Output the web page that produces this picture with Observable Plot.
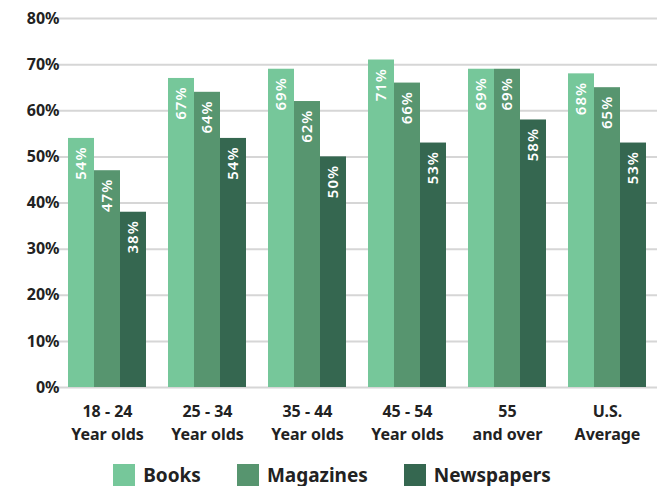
<!DOCTYPE html>
<html>
<head>
<meta charset="utf-8">
<script src="https://cdn.jsdelivr.net/npm/d3@7"></script>
<script src="https://cdn.jsdelivr.net/npm/@observablehq/plot@0.6"></script>
<style>
  body { margin: 0; background: #fff; font-family: "Noto Sans", sans-serif; }
  #chart svg { display: block; }
  g[aria-label="text"] text { letter-spacing: 1px; }
  .legend { display: flex; justify-content: center; align-items: center; gap: 36px; margin-top: 8px; margin-left: 4px; height: 22px; }
  .item { display: flex; align-items: center; gap: 8px; font-weight: bold; font-size: 19px; line-height: 22px; color: #222; }
  .sw { width: 22px; height: 22px; }
</style>
</head>
<body>
<div id="chart"></div>
<div class="legend" id="legend"></div>
<script>
const groups = ["18 - 24\nYear olds", "25 - 34\nYear olds", "35 - 44\nYear olds", "45 - 54\nYear olds", "55\nand over", "U.S.\nAverage"];
const seriesNames = ["Books", "Magazines", "Newspapers"];
const colors = ["#76c79a", "#57956f", "#356750"];
const books = [54, 67, 69, 71, 69, 68];
const magazines = [47, 64, 62, 66, 69, 65];
const newspapers = [38, 54, 50, 53, 58, 53];
const yTicks = [0, 10, 20, 30, 40, 50, 60, 70, 80];

const seriesValues = [books, magazines, newspapers];
const data = [];
groups.forEach((g, i) => {
  seriesNames.forEach((s, j) => data.push({group: g, series: s, value: seriesValues[j][i]}));
});

const chart = Plot.plot({
  width: 660,
  height: 456,
  marginLeft: 57,
  marginRight: 3,
  marginTop: 18,
  marginBottom: 69,
  style: {fontFamily: "Noto Sans, sans-serif", color: "#222"},
  fx: {domain: groups, paddingInner: 0.22, paddingOuter: 0.11, label: null, axis: null},
  x: {domain: seriesNames, padding: 0, axis: null},
  y: {domain: [0, 80], ticks: yTicks, label: null},
  color: {domain: seriesNames, range: colors},
  marks: [
    Plot.ruleY(yTicks, {stroke: "#d6d6d6", strokeWidth: 2, insetLeft: -11, insetRight: -11}),
    Plot.barY(data, {fx: "group", x: "series", y: "value", fill: "series"}),
    Plot.text(data, {fx: "group", x: "series", y: "value", text: d => d.value + "%", rotate: -90, textAnchor: "end", lineAnchor: "middle", dy: 8, fill: "white", fontSize: 15, fontWeight: 600}),
    Plot.axisY(yTicks, {tickSize: 0, tickPadding: 9, tickFormat: d => d + "%", fontSize: 16, fontWeight: "bold", fill: "#222", label: null}),
    Plot.axisFx({anchor: "bottom", tickSize: 0, tickPadding: 13, fontSize: 16, fontWeight: "bold", fill: "#222", lineHeight: 1.45, label: null})
  ]
});
document.getElementById("chart").appendChild(chart);

const legend = document.getElementById("legend");
seriesNames.forEach((s, i) => {
  const item = document.createElement("div");
  item.className = "item";
  item.innerHTML = `<div class="sw" style="background:${colors[i]}"></div><span>${s}</span>`;
  legend.appendChild(item);
});
</script>
</body>
</html>
